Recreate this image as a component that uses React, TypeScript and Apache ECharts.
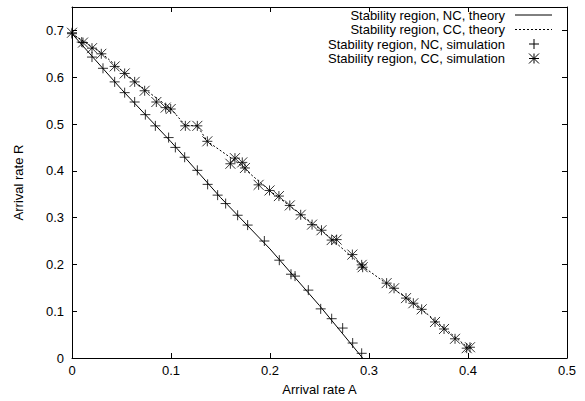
import React, { useEffect, useRef } from "react";
import * as echarts from "echarts";

const FONT = '"Liberation Sans", Arial, Helvetica, sans-serif';

// Theory curves
const ncTheoryA = [0, 0.05, 0.1, 0.15, 0.2, 0.25, 0.2935];
const ncTheoryR = [0.693, 0.574, 0.462, 0.343, 0.233, 0.112, 0];
const ccTheoryA = [0, 0.0296, 0.0633, 0.0997, 0.1145, 0.1266, 0.1367, 0.165, 0.1995, 0.252, 0.2936, 0.3532, 0.4];
const ccTheoryR = [0.693, 0.652, 0.59, 0.533, 0.497, 0.496, 0.463, 0.421, 0.358, 0.273, 0.196, 0.104, 0.022];

// Simulation points
const ncSimA = [0, 0.0098, 0.0202, 0.0313, 0.0431, 0.0532, 0.0633, 0.0741, 0.0842, 0.0976, 0.1044, 0.1138, 0.1266, 0.137, 0.1471, 0.1552, 0.1673, 0.1774, 0.1943, 0.2094, 0.2212, 0.2253, 0.2387, 0.2512, 0.2623, 0.2734, 0.2835, 0.2926];
const ncSimR = [0.693, 0.675, 0.643, 0.619, 0.59, 0.567, 0.547, 0.52, 0.496, 0.471, 0.45, 0.429, 0.401, 0.371, 0.348, 0.33, 0.305, 0.284, 0.25, 0.209, 0.179, 0.175, 0.145, 0.105, 0.084, 0.064, 0.032, 0.01];
const ccSimA = [0, 0.0111, 0.0202, 0.0296, 0.0431, 0.0532, 0.0633, 0.0734, 0.0852, 0.0946, 0.0997, 0.1145, 0.1266, 0.1367, 0.16, 0.1646, 0.172, 0.1747, 0.1885, 0.1995, 0.209, 0.22, 0.231, 0.2425, 0.252, 0.2623, 0.2673, 0.2832, 0.2926, 0.2936, 0.3178, 0.3253, 0.3374, 0.3448, 0.3532, 0.3667, 0.3758, 0.3869, 0.3987, 0.402];
const ccSimR = [0.695, 0.674, 0.662, 0.65, 0.623, 0.608, 0.59, 0.571, 0.547, 0.535, 0.532, 0.496, 0.496, 0.463, 0.415, 0.427, 0.418, 0.406, 0.37, 0.358, 0.346, 0.326, 0.306, 0.285, 0.273, 0.252, 0.253, 0.221, 0.199, 0.194, 0.16, 0.149, 0.128, 0.117, 0.104, 0.077, 0.062, 0.041, 0.021, 0.023];

const legendLabels = [
  "Stability region, NC, theory",
  "Stability region, CC, theory",
  "Stability region, NC, simulation",
  "Stability region, CC, simulation",
];
const xAxisName = "Arrival rate A";
const yAxisName = "Arrival rate R";

const PLUS = "path://M0 5H10M5 0V10";
const STAR = "path://M0 5H10M5 0V10M0 0L10 10M0 10L10 0";

const zip = (a: number[], b: number[]) => a.map((v, i) => [v, b[i]]);

export default function App() {
  const ref = useRef<HTMLDivElement>(null);
  useEffect(() => {
    const chart = echarts.init(ref.current!, null, { renderer: "svg" });
    const line = { color: "#000", width: 1 };
    const common = {
      type: "value" as const,
      axisLine: { show: true, onZero: false, lineStyle: line },
      axisTick: { show: true, inside: true, length: 5, lineStyle: line },
      splitLine: { show: false },
    };
    const labelStyle = { color: "#000", fontSize: 13, fontFamily: FONT };
    const legendX = 505;
    const sampleX1 = 515;
    const sampleX2 = 552;
    const markX = 534;
    const rows = [15, 29.5, 44, 58.5];
    const graphics: any[] = [];
    legendLabels.forEach((t, i) => {
      graphics.push({
        type: "text",
        x: legendX,
        y: rows[i],
        style: {
          text: t,
          fill: "#000",
          font: `13px ${FONT}`,
          lineHeight: 13,
          align: "right",
          verticalAlign: "middle",
          textAlign: "right",
          textVerticalAlign: "middle",
        },
      });
    });
    graphics.push({
      type: "line",
      shape: { x1: sampleX1, y1: rows[0], x2: sampleX2, y2: rows[0] },
      style: { stroke: "#000", lineWidth: 1 },
    });
    graphics.push({
      type: "line",
      shape: { x1: sampleX1, y1: rows[1], x2: sampleX2, y2: rows[1] },
      style: { stroke: "#000", lineWidth: 1, lineDash: [2, 2] },
    });
    const h = 5;
    graphics.push({
      type: "group",
      children: [
        { type: "line", shape: { x1: markX - h, y1: rows[2], x2: markX + h, y2: rows[2] }, style: { stroke: "#000", lineWidth: 1 } },
        { type: "line", shape: { x1: markX, y1: rows[2] - h, x2: markX, y2: rows[2] + h }, style: { stroke: "#000", lineWidth: 1 } },
      ],
    });
    graphics.push({
      type: "group",
      children: [
        { type: "line", shape: { x1: markX - h, y1: rows[3], x2: markX + h, y2: rows[3] }, style: { stroke: "#000", lineWidth: 1 } },
        { type: "line", shape: { x1: markX, y1: rows[3] - h, x2: markX, y2: rows[3] + h }, style: { stroke: "#000", lineWidth: 1 } },
        { type: "line", shape: { x1: markX - h, y1: rows[3] - h, x2: markX + h, y2: rows[3] + h }, style: { stroke: "#000", lineWidth: 1 } },
        { type: "line", shape: { x1: markX - h, y1: rows[3] + h, x2: markX + h, y2: rows[3] - h }, style: { stroke: "#000", lineWidth: 1 } },
      ],
    });

    chart.setOption({
      animation: false,
      backgroundColor: "#fff",
      grid: { left: 72, right: 18, top: 7, bottom: 41 },
      xAxis: [
        {
          ...common,
          min: 0,
          max: 0.5,
          interval: 0.1,
          position: "bottom",
          name: xAxisName,
          nameLocation: "middle",
          nameGap: 25,
          nameTextStyle: labelStyle,
          axisLabel: { ...labelStyle, margin: 6 },
        },
        {
          ...common,
          min: 0,
          max: 0.5,
          interval: 0.1,
          position: "top",
          axisLabel: { show: false },
        },
      ],
      yAxis: [
        {
          ...common,
          min: 0,
          max: 0.75,
          interval: 0.1,
          position: "left",
          name: yAxisName,
          nameLocation: "middle",
          nameGap: 47,
          nameTextStyle: labelStyle,
          axisLabel: { ...labelStyle, margin: 8, showMaxLabel: false },
        },
        {
          ...common,
          min: 0,
          max: 0.75,
          interval: 0.1,
          position: "right",
          axisLabel: { show: false },
        },
      ],
      series: [
        {
          type: "line",
          data: zip(ncTheoryA, ncTheoryR),
          showSymbol: false,
          lineStyle: { color: "#000", width: 1 },
          z: 2,
        },
        {
          type: "line",
          data: zip(ccTheoryA, ccTheoryR),
          showSymbol: false,
          lineStyle: { color: "#000", width: 1, type: [2, 2] },
          z: 2,
        },
        {
          type: "scatter",
          data: zip(ncSimA, ncSimR),
          symbol: PLUS,
          symbolSize: 10,
          itemStyle: { color: "transparent", borderColor: "#000", borderWidth: 1 },
          z: 3,
        },
        {
          type: "scatter",
          data: zip(ccSimA, ccSimR),
          symbol: STAR,
          symbolSize: 10,
          itemStyle: { color: "transparent", borderColor: "#000", borderWidth: 1 },
          z: 3,
        },
      ],
      graphic: graphics,
    });
    return () => chart.dispose();
  }, []);
  return (
    <div
      ref={ref}
      style={{ position: "fixed", left: 0, top: 0, width: 585, height: 401 }}
    />
  );
}
